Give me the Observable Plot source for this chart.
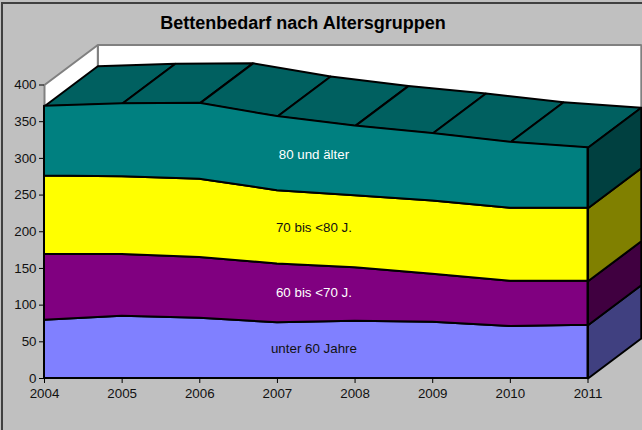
<!DOCTYPE html>
<html lang="de">
<head>
<meta charset="utf-8">
<script src="https://cdn.jsdelivr.net/npm/d3@7"></script>
<script src="https://cdn.jsdelivr.net/npm/@observablehq/plot@0.6"></script>
<style>
  html, body { margin: 0; padding: 0; background: #c0c0c0; width: 642px; height: 430px; overflow: hidden; }
  svg { display: block; }
  #frame { position: absolute; left: 1px; top: 2px; width: 641px; height: 428px; box-sizing: border-box;
           border-left: 2px solid #404040; border-top: 2px solid #404040; pointer-events: none; }
</style>
</head>
<body>
<div id="chart"></div>
<div id="frame"></div>
<script>
const chartTitle = "Bettenbedarf nach Altersgruppen";
const years = [2004, 2005, 2006, 2007, 2008, 2009, 2010, 2011];
const seriesNames = ["unter 60 Jahre", "60 bis <70 J.", "70 bis <80 J.", "80 und älter"];
const under60 = [79.5, 85, 82, 76, 78, 76.5, 71, 72.5];
const from60 = [89.5, 84, 83, 80, 73, 65.5, 61.5, 60];
const from70 = [107, 106, 106.5, 100, 98, 100, 99.5, 99.5];
const over80 = [95, 99.5, 103.5, 101, 95, 92, 90, 82.5];
const seriesValues = [under60, from60, from70, over80];
const frontColors = ["#8080ff", "#800080", "#ffff00", "#008080"];
const sideColors = ["#404080", "#400040", "#808000", "#004040"];
const topColor = "#006060";
const labelColors = ["#111111", "#ffffff", "#111111", "#ffffff"];
const labelYear = 2007.47;
const labelValues = [41, 117, 205, 305];
const depthYears = 0.6865;
const depthValue = 54.5;
const yMax = 400;

const rows = seriesNames.flatMap((s, i) =>
  years.map((year, j) => ({ series: s, year, value: seriesValues[i][j] })));

// cumulative boundaries
const cum = [];
seriesValues.forEach((vals, i) => cum.push(vals.map((v, j) => v + (i ? cum[i - 1][j] : 0))));
const topEdge = cum[cum.length - 1];
const back = (x, y) => ({ x: x + depthYears, y: y + depthValue });

// top ribbon: one closed quad per year interval
const topQuads = years.slice(0, -1).flatMap((yr, j) => {
  const a = { x: yr, y: topEdge[j] }, b = { x: years[j + 1], y: topEdge[j + 1] };
  return [a, b, back(b.x, b.y), back(a.x, a.y), a].map(p => ({ ...p, id: j }));
});
// side faces at the last year
const last = years.length - 1, lastYear = years[last];
const sideQuads = seriesNames.flatMap((s, i) => {
  const lo = i ? cum[i - 1][last] : 0, hi = cum[i][last];
  const a = { x: lastYear, y: lo }, b = { x: lastYear, y: hi };
  return [a, b, back(b.x, b.y), back(a.x, a.y), a].map(p => ({ ...p, id: s }));
});
// walls
const first = years[0];
const backWall = [[first, 0], [first, yMax], [lastYear, yMax], [lastYear, 0], [first, 0]]
  .map(([x, y]) => back(x, y));
const leftWall = [{ x: first, y: 0 }, { x: first, y: yMax }, back(first, yMax), back(first, 0), { x: first, y: 0 }];

const quad = (data, fill, width = 2, stroke = "#000") => Plot.line(data, {
  x: "x", y: "y", z: "id", fill, stroke, strokeWidth: width, curve: "linear", strokeLinejoin: "miter"
});

const plot = Plot.plot({
  width: 642,
  height: 430,
  marginLeft: 44,
  marginRight: 54.5,
  marginTop: 84.5,
  marginBottom: 52,
  style: { background: "#c0c0c0", fontFamily: "'Liberation Sans', Arial, sans-serif", fontSize: "13.33px", overflow: "visible" },
  x: { domain: [first, lastYear], label: null },
  y: { domain: [0, yMax], label: null },
  color: { domain: seriesNames, range: frontColors },
  marks: [
    quad(backWall, "#ffffff", 2, "#808080"),
    quad(leftWall, "#ffffff", 2, "#808080"),
    quad(topQuads, topColor),
    Plot.line(sideQuads, { x: "x", y: "y", z: "id", fill: d => sideColors[seriesNames.indexOf(d.id)], stroke: "#000", strokeWidth: 2 }),
    Plot.areaY(rows, { x: "year", y: "value", z: "series", fill: "series", stroke: "#000", strokeWidth: 2, order: seriesNames }),
    Plot.axisX({ ticks: years, tickFormat: "d", tickSize: 5, tickPadding: 5.5, stroke: "#000", fill: "#111", label: null, fontSize: 13.33 }),
    Plot.axisY({ ticks: d3.range(0, yMax + 1, 50), tickSize: 5, tickPadding: 3, stroke: "#000", fill: "#111", label: null, fontSize: 13.33 }),
    Plot.text(seriesNames, {
      x: () => labelYear, y: (d, i) => labelValues[i], text: d => d,
      fill: (d, i) => labelColors[i], fontSize: 13.33, textAnchor: "middle"
    }),
    Plot.text([chartTitle], {
      frameAnchor: "top-left", dx: 258.5, dy: -69, text: d => d, fontSize: 18, fontWeight: "bold", fill: "#000", textAnchor: "middle"
    })
  ]
});
document.getElementById("chart").append(plot);
</script>
</body>
</html>
